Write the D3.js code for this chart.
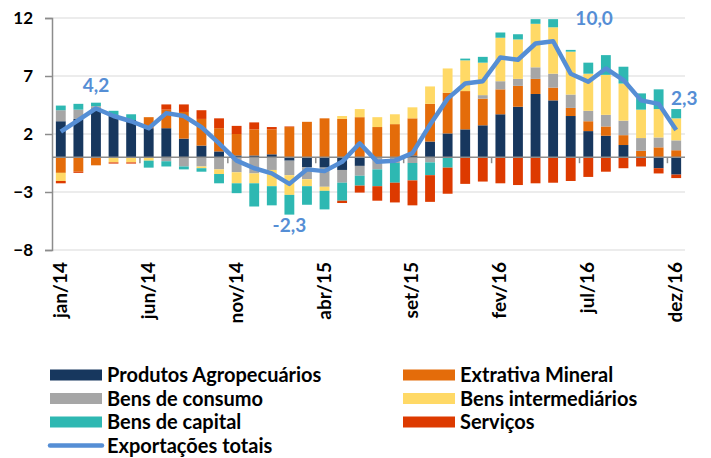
<!DOCTYPE html>
<html>
<head>
<meta charset="utf-8">
<script src="https://cdnjs.cloudflare.com/ajax/libs/d3/7.8.5/d3.min.js"></script>
<style>
  body { margin: 0; background: #fff; }
  text { font-family: Lato, "Open Sans", sans-serif; font-weight: bold; }
</style>
</head>
<body>
<svg></svg>
<script>
var width = 711, height = 458;

// meses (jan/14 .. dez/16)
var meses = ["jan/14","fev/14","mar/14","abr/14","mai/14","jun/14","jul/14","ago/14","set/14","out/14","nov/14","dez/14",
             "jan/15","fev/15","mar/15","abr/15","mai/15","jun/15","jul/15","ago/15","set/15","out/15","nov/15","dez/15",
             "jan/16","fev/16","mar/16","abr/16","mai/16","jun/16","jul/16","ago/16","set/16","out/16","nov/16","dez/16"];

var agro = [3.1,3.3,4.2,3.6,3.2,2.5,2.5,1.6,1.0,0.5,0.15,0.15,
            0.25,-0.3,-0.85,-0.9,-1.1,-0.75,0,0,0.15,1.35,2.05,2.4,
            2.75,3.7,4.35,5.45,4.9,3.55,2.25,1.85,1.05,0,-0.95,-1.5];
var extrativa = [-1.35,-1.25,-0.7,0,0,0.95,1.6,2.3,2.3,2.0,1.85,2.25,
                 2.15,2.6,3.05,3.35,3.3,3.45,2.6,2.85,3.2,3.25,3.5,3.3,
                 2.3,2.15,1.8,1.3,1.1,0.7,0.85,0.8,0.85,0.55,0.85,0.6];
var consumo = [0.95,0.8,0.2,0,0,0,-0.35,-0.8,-0.8,-1.05,-1.3,-1.4,
               -1.1,-1.25,-1.05,-1.65,-1.1,-0.85,-1.05,-0.5,-0.5,-0.45,0,0,
               0.3,0.7,0.6,1.0,1.2,1.15,0.9,1.0,1.25,1.1,0.85,0.85];
var intermediarios = [-0.7,0,0,-0.45,-0.45,-0.3,0,0,-0.15,-0.4,-0.95,-0.85,
                      -1.4,-1.7,-0.6,-0.35,0.25,0.7,0.85,0.85,0.95,1.5,2.1,2.65,
                      2.8,3.75,3.4,3.75,4.0,3.7,3.2,3.45,3.2,2.45,2.45,1.9];
var capital = [0.4,0.5,0.3,0.4,0.5,-0.6,-0.45,-0.25,-0.3,-0.8,-0.85,-2.0,
               -1.65,-1.7,-1.6,-1.6,-1.55,-0.85,-1.45,-1.7,-1.5,-1.1,-0.9,0.15,
               0.5,0.45,0.45,0.4,0.7,0.15,0.95,1.7,1.45,1.4,1.7,0.8];
var servicos = [-0.2,-0.1,0,-0.1,-0.1,0,0.45,0.65,0.75,0.85,0.7,0.6,
                0.2,0.05,0,0,-0.2,-0.6,-1.25,-1.7,-2.15,-2.3,-2.25,-2.3,
                -2.1,-2.25,-2.4,-2.25,-2.2,-2.05,-1.7,-1.25,-0.95,-0.8,-0.45,-0.3];
var totais = [2.2,3.2,4.2,3.55,3.1,2.5,3.8,3.55,2.6,1.2,-0.3,-0.95,
              -1.4,-2.3,-1.05,-1.2,-0.4,1.2,-0.4,-0.3,0.35,2.8,5.05,6.35,
              6.55,8.6,8.4,9.8,10.0,7.2,6.5,7.65,6.65,4.9,4.6,2.35];

var series = ["Produtos Agropecuários","Extrativa Mineral","Bens de consumo","Bens intermediários","Bens de capital","Serviços"];
var valores = [agro, extrativa, consumo, intermediarios, capital, servicos];
var cores = ["#17375e","#e46c0a","#a6a6a6","#ffd966","#2eb8b2","#dd3a00"];
var corLinha = "#558ed5";

var yTicks = [-8,-3,2,7,12];
var tickMeses = ["jan/14","jun/14","nov/14","abr/15","set/15","fev/16","jul/16","dez/16"];
// rótulos de dados: índice do mês, texto, deslocamento
var rotulos = [{i:2, t:"4,2", dx:0, dy:-16}, {i:13, t:"-2,3", dx:0, dy:48},
               {i:28, t:"10,0", dx:41, dy:-16}, {i:35, t:"2,3", dx:8, dy:-25}];

// tabela para o d3.stack
var tabela = meses.map(function(m, i) {
  var row = {mes: m};
  series.forEach(function(s, k) { row[s] = valores[k][i]; });
  return row;
});

var svg = d3.select("svg").attr("width", width).attr("height", height);

var x = d3.scaleBand().domain(meses).range([52, 685]).paddingInner(0.44).paddingOuter(0.22);
var y = d3.scaleLinear().domain([-8, 12]).range([250, 18]);

// grade
svg.append("g").selectAll("line").data(yTicks).enter().append("line")
    .attr("x1", 52).attr("x2", 685)
    .attr("y1", function(d) { return y(d); }).attr("y2", function(d) { return y(d); })
    .attr("stroke", "#e6e6e6").attr("stroke-width", 1.5);

// barras empilhadas
var stack = d3.stack().keys(series).offset(d3.stackOffsetDiverging);
var camadas = stack(tabela);

svg.append("g").selectAll("g").data(camadas).enter().append("g")
    .attr("fill", function(d, k) { return cores[k]; })
  .selectAll("rect").data(function(d) { return d; }).enter().append("rect")
    .attr("x", function(d) { return x(d.data.mes); })
    .attr("width", x.bandwidth())
    .attr("y", function(d) { return y(Math.max(d[0], d[1])); })
    .attr("height", function(d) { return Math.abs(y(d[0]) - y(d[1])); });

// eixo vertical
var yAxis = svg.append("g").attr("transform", "translate(52,0)")
    .call(d3.axisLeft(y).tickValues(yTicks).tickSize(7).tickPadding(12));
yAxis.select(".domain").attr("stroke", "#8c8c8c").attr("stroke-width", 1.5);
yAxis.selectAll(".tick line").attr("stroke", "#8c8c8c").attr("stroke-width", 1.5);
yAxis.selectAll(".tick text").attr("fill", "#000").style("font-size", "17px")
    .style("font-family", "Lato, sans-serif").style("font-weight", "bold");

// eixo zero (categorias)
svg.append("line").attr("x1", 52).attr("x2", 685).attr("y1", y(0)).attr("y2", y(0))
    .attr("stroke", "#8c8c8c").attr("stroke-width", 1.5);
var step = x.step();
svg.append("g").selectAll("line").data(d3.range(5, 36, 5)).enter().append("line")
    .attr("x1", function(d) { return 52 + d * step; })
    .attr("x2", function(d) { return 52 + d * step; })
    .attr("y1", y(0)).attr("y2", y(0) + 6)
    .attr("stroke", "#8c8c8c").attr("stroke-width", 1.5);

// rótulos do eixo x
svg.append("g").selectAll("text").data(tickMeses).enter().append("text")
    .attr("transform", function(d) {
      return "translate(" + (x(d) + x.bandwidth() / 2 + 6) + ",262) rotate(-90)";
    })
    .attr("text-anchor", "end")
    .style("font-size", "19px")
    .text(function(d) { return d; });

// linha de exportações totais
var linha = d3.line()
    .x(function(d, i) { return x(meses[i]) + x.bandwidth() / 2; })
    .y(function(d) { return y(d); });
svg.append("path").datum(totais)
    .attr("d", linha).attr("fill", "none")
    .attr("stroke", corLinha).attr("stroke-width", 4.5).attr("stroke-linejoin", "round");

svg.append("g").selectAll("text").data(rotulos).enter().append("text")
    .attr("x", function(d) { return x(meses[d.i]) + x.bandwidth() / 2 + d.dx; })
    .attr("y", function(d) { return y(totais[d.i]) + d.dy; })
    .attr("text-anchor", "middle")
    .attr("fill", corLinha)
    .style("font-size", "19px")
    .text(function(d) { return d.t; });

// legenda
var ordem = [0, 2, 4, 1, 3, 5];
var itens = ordem.map(function(k, j) {
  return {nome: series[k], cor: cores[k], col: j < 3 ? 0 : 1, row: j % 3, tipo: "rect"};
});
itens.push({nome: "Exportações totais", cor: corLinha, col: 0, row: 3, tipo: "line"});

var leg = svg.append("g").selectAll("g").data(itens).enter().append("g")
    .attr("transform", function(d) { return "translate(" + (d.col ? 403 : 50) + "," + (375 + d.row * 23.5) + ")"; });
leg.filter(function(d) { return d.tipo == "rect"; }).append("rect")
    .attr("x", 0).attr("y", -5.5).attr("width", 52).attr("height", 11)
    .attr("fill", function(d) { return d.cor; });
leg.filter(function(d) { return d.tipo == "line"; }).append("line")
    .attr("x1", 0).attr("x2", 52).attr("y1", 0).attr("y2", 0)
    .attr("stroke", corLinha).attr("stroke-width", 4.5).attr("stroke-linecap", "round");
leg.append("text")
    .attr("x", 57).attr("y", 7)
    .style("font-size", "20px")
    .text(function(d) { return d.nome; });
</script>
</body>
</html>
